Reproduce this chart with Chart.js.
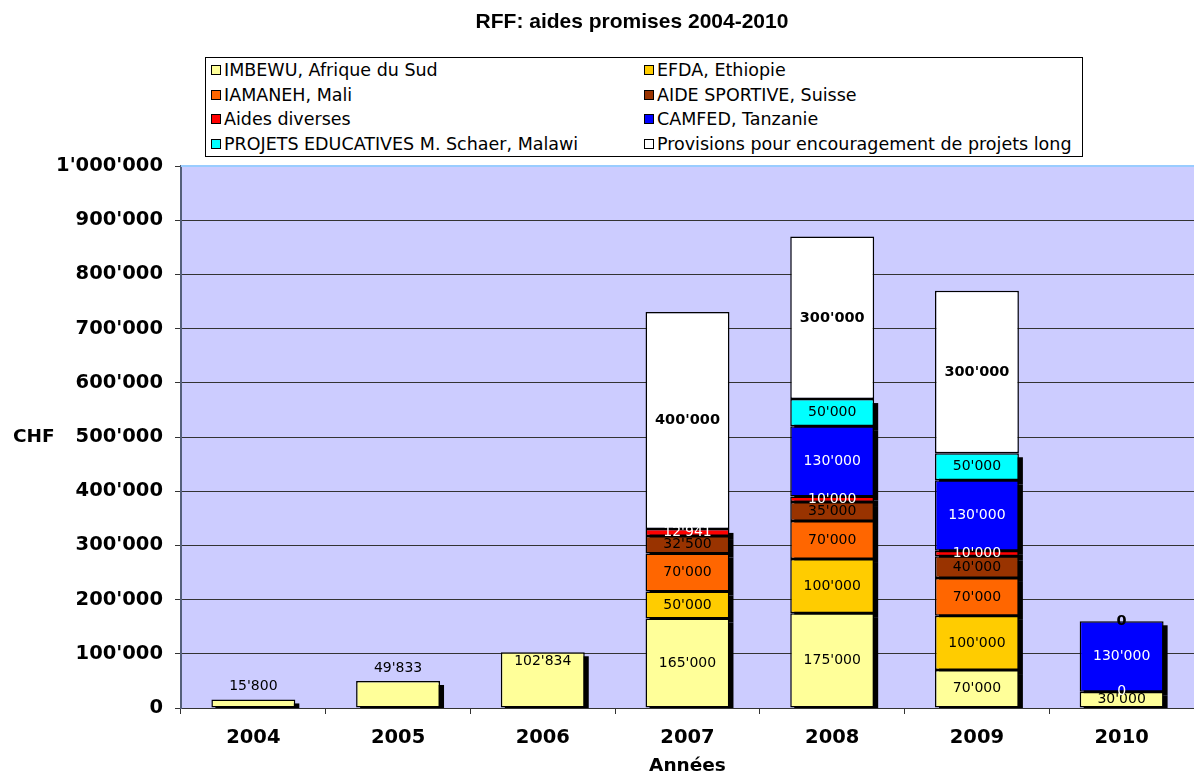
<!DOCTYPE html>
<html>
<head>
<meta charset="utf-8">
<script src="https://cdn.jsdelivr.net/npm/chart.js@4"></script>
<style>
  body { margin: 0; background: #fff; }
  #wrap { position: relative; width: 1194px; height: 774px; }
  #title { position: absolute; top: 9px; left: 432px; width: 400px; text-align: center;
           font: bold 21px "Liberation Sans", Arial, sans-serif; color: #000; }
  #legend { position: absolute; left: 205px; top: 57px; width: 876px; height: 98px;
            border: 1px solid #000; background: #fff; display: grid;
            grid-template-columns: 433px 1fr; grid-auto-rows: 24.5px; align-items: center;
            font: 17.5px "DejaVu Sans", Verdana, sans-serif; color: #000; }
  #legend div { display: flex; align-items: center; padding-left: 5px; white-space: nowrap; }
  #legend span.box { width: 8px; height: 8px; border: 1.5px solid #000; margin-right: 3px; display: inline-block; flex: none; }
</style>
</head>
<body>
<div id="wrap">
  <canvas id="chart" width="1194" height="774"></canvas>
  <div id="title">RFF: aides promises 2004-2010</div>
  <div id="legend"></div>
</div>
<script>
const years = ['2004', '2005', '2006', '2007', '2008', '2009', '2010'];

const imbewu   = [15800, 49833, 102834, 165000, 175000, 70000, 30000];
const efda     = [null, null, null, 50000, 100000, 100000, null];
const iamaneh  = [null, null, null, 70000, 70000, 70000, null];
const sportive = [null, null, null, 32500, 35000, 40000, null];
const diverses = [null, null, null, 12941, 10000, 10000, 0];
const camfed   = [null, null, null, null, 130000, 130000, 130000];
const projets  = [null, null, null, null, 50000, 50000, null];
const provisions = [null, null, null, 400000, 300000, 300000, 0];

const yTicks = [0, 100000, 200000, 300000, 400000, 500000, 600000, 700000, 800000, 900000, 1000000];

const fmt = v => String(v).replace(/\B(?=(\d{3})+(?!\d))/g, "'");

const series = [
  { label: 'IMBEWU, Afrique du Sud', data: imbewu, color: '#ffff99', text: '#000' },
  { label: 'EFDA, Ethiopie', data: efda, color: '#ffcc00', text: '#000' },
  { label: 'IAMANEH, Mali', data: iamaneh, color: '#ff6600', text: '#000' },
  { label: 'AIDE SPORTIVE, Suisse', data: sportive, color: '#993300', text: '#000' },
  { label: 'Aides diverses', data: diverses, color: '#ff0000', text: '#fff' },
  { label: 'CAMFED, Tanzanie', data: camfed, color: '#0000ff', text: '#fff' },
  { label: 'PROJETS EDUCATIVES M. Schaer, Malawi', data: projets, color: '#00ffff', text: '#000' },
  { label: 'Provisions pour encouragement de projets long', data: provisions, color: '#ffffff', text: '#000', bold: true, noShadow: true }
];

// legend, 2 columns, row-major
document.getElementById('legend').innerHTML = series.map(s =>
  `<div><span class="box" style="background:${s.color}"></span>${s.label}</div>`).join('');

const FONT = '"DejaVu Sans", Verdana, sans-serif';

const plotBg = {
  id: 'plotBg',
  beforeDraw(chart) {
    const { ctx, chartArea: a } = chart;
    ctx.save();
    ctx.fillStyle = '#ccccff';
    ctx.fillRect(a.left, a.top, a.right - a.left, a.bottom - a.top);
    ctx.restore();
  },
  afterDraw(chart) {
    const { ctx, chartArea: a } = chart;
    ctx.save();
    ctx.strokeStyle = '#99ccff';
    ctx.lineWidth = 2;
    ctx.beginPath();
    ctx.moveTo(a.left, a.top);
    ctx.lineTo(a.right, a.top);
    ctx.stroke();
    // axis titles
    ctx.fillStyle = '#000';
    ctx.font = 'bold 18.5px ' + FONT;
    ctx.textBaseline = 'middle';
    ctx.textAlign = 'left';
    ctx.fillText('CHF', 13, chart.scales.y.getPixelForValue(500000));
    ctx.textAlign = 'center';
    ctx.fillText('Années', (a.left + a.right) / 2, 766);
    ctx.restore();
  }
};

const shadows = {
  id: 'shadows',
  beforeDatasetsDraw(chart) {
    const { ctx, chartArea: a } = chart;
    ctx.save();
    ctx.beginPath();
    ctx.rect(a.left, a.top, a.right - a.left, a.bottom - a.top);
    ctx.clip();
    ctx.fillStyle = '#000';
    chart.data.datasets.forEach((ds, i) => {
      if (ds.noShadow) return;
      chart.getDatasetMeta(i).data.forEach((bar, j) => {
        if (!ds.data[j]) return;
        ctx.fillRect(bar.x - bar.width / 2 + 4, bar.y + 4, bar.width, bar.base - bar.y);
      });
    });
    ctx.restore();
  }
};

const barLabels = {
  id: 'barLabels',
  afterDatasetsDraw(chart) {
    const { ctx } = chart;
    const sets = chart.data.datasets;
    ctx.save();
    ctx.textAlign = 'center';
    ctx.textBaseline = 'middle';
    sets.forEach((ds, i) => {
      chart.getDatasetMeta(i).data.forEach((bar, j) => {
        const v = ds.data[j];
        if (v === null || v === undefined) return;
        const others = sets.filter((d, k) => k !== i && d.data[j]).length;
        let y = (bar.y + bar.base) / 2;
        if (others === 0) {
          const h = bar.base - bar.y;
          y = h < 40 ? bar.y - 13 : bar.y + 9;
        }
        ctx.fillStyle = ds.textColor;
        ctx.font = (ds.bold ? 'bold 14.5px ' : '14px ') + FONT;
        ctx.fillText(fmt(v), bar.x, y);
      });
    });
    ctx.restore();
  }
};

new Chart(document.getElementById('chart'), {
  type: 'bar',
  data: {
    labels: years,
    datasets: series.map(s => ({
      label: s.label,
      data: s.data,
      backgroundColor: s.color,
      borderColor: '#000',
      borderWidth: 1.5,
      borderSkipped: false,
      textColor: s.text,
      bold: !!s.bold,
      noShadow: !!s.noShadow,
      barPercentage: 0.58,
      categoryPercentage: 1
    }))
  },
  options: {
    responsive: false,
    animation: false,
    layout: { padding: { top: 166, right: 0, left: 0, bottom: 0 } },
    plugins: { legend: { display: false }, title: { display: false }, tooltip: { enabled: false } },
    scales: {
      x: {
        stacked: true,
        afterFit: s => { s.height = 66; },
        grid: { drawOnChartArea: false, offset: true, tickLength: 6, color: '#333', tickColor: '#333' },
        border: { color: '#333', width: 1 },
        ticks: { color: '#000', padding: 12, font: { family: FONT, size: 19.5, weight: 'bold' } }
      },
      y: {
        stacked: true,
        min: 0,
        max: 1000000,
        afterFit: s => { s.width = 181; },
        afterBuildTicks: s => { s.ticks = yTicks.map(v => ({ value: v })); },
        grid: {
          color: c => (c.tick && c.tick.value === 1000000) ? 'rgba(0,0,0,0)' : '#333',
          tickColor: '#333', tickLength: 6, lineWidth: 1
        },
        border: { color: '#55607a', width: 2 },
        ticks: { color: '#000', padding: 12, callback: v => fmt(v),
                 font: { family: FONT, size: 19.5, weight: 'bold' } }
      }
    }
  },
  plugins: [plotBg, shadows, barLabels]
});
</script>
</body>
</html>
